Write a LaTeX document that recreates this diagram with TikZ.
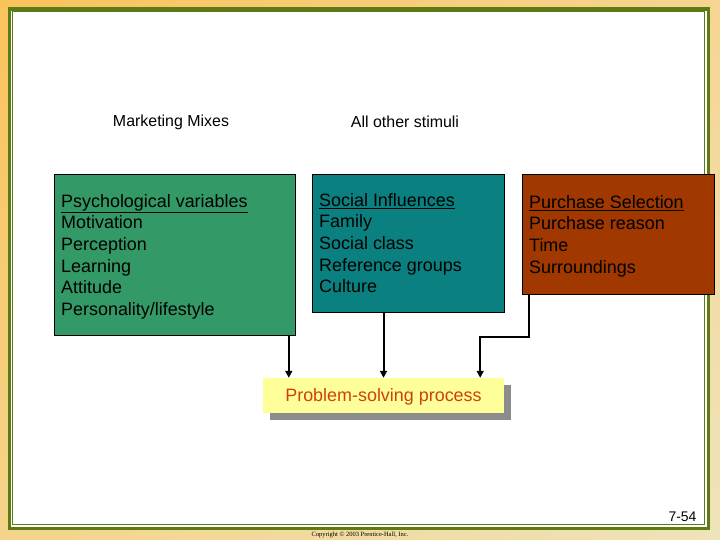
\documentclass[tikz,border=0pt]{standalone}
\usepackage{fontspec}
\setmainfont{Liberation Sans}
\newfontfamily\copyfont{Liberation Serif}
\usetikzlibrary{positioning, arrows.meta, shadows, shadings}
\definecolor{frameOlive}{HTML}{5E7A14}
\definecolor{psychGreen}{HTML}{339966}
\definecolor{socialTeal}{HTML}{0A8080}
\definecolor{purchRed}{HTML}{A03800}
\definecolor{probYellow}{HTML}{FFFF99}
\definecolor{probText}{HTML}{D0400A}
\definecolor{shadowGrey}{HTML}{8C8C8C}
\definecolor{rimOrange}{HTML}{F9C35C}
\definecolor{rimPeach}{HTML}{F6D592}
\definecolor{rimSand}{HTML}{F4D48A}
\definecolor{rimBeige}{HTML}{EFE3BA}

\tikzset{
  varbox/.style={draw=black, line width=0.8bp, inner sep=0pt, anchor=north west},
  vartext/.style={anchor=north west, inner sep=0pt, align=left,
    font=\fontsize{18}{21.7}\selectfont},
  feed/.style={line width=2bp, -{Triangle[width=7bp,length=7bp]}},
}

\begin{document}
\begin{tikzpicture}[x=1bp, y=-1bp]
    \useasboundingbox (0,0) rectangle (720,540);
    % cadre de la diapositive
    \shade[upper left=rimOrange, upper right=rimPeach, lower left=rimSand, lower right=rimBeige]
      (0,0) rectangle (720,540);
    \fill[white] (8,8) rectangle (710,530);
    \draw[frameOlive, line width=3.5bp] (9.5,9) rectangle (708.5,528.5);
    \draw[frameOlive, line width=1bp] (12.5,12) rectangle (704.5,524.5);

    \node[font=\fontsize{16}{19}\selectfont] (mixLabel) at (171,122) {Marketing Mixes};
    \node[font=\fontsize{16}{19}\selectfont] (stimLabel) at (405,122) {All other stimuli};

    \node[varbox, fill=psychGreen, minimum width=241bp, minimum height=161bp] (psych) at (54,174) {};
    \node[vartext] (psychText) at ([shift={(7,20)}]psych.north west)
      {\underline{Psychological variables}\\Motivation\\Perception\\Learning\\Attitude\\Personality/lifestyle};

    \node[varbox, fill=socialTeal, minimum width=192bp, minimum height=138bp] (social) at (312,174) {};
    \node[vartext] (socialText) at ([shift={(7,19)}]social.north west)
      {\underline{Social Influences}\\Family\\Social class\\Reference groups\\Culture};

    \node[varbox, fill=purchRed, minimum width=192bp, minimum height=120bp] (purch) at (522,174) {};
    \node[vartext] (purchText) at ([shift={(7,21)}]purch.north west)
      {\underline{Purchase Selection}\\Purchase reason\\Time\\Surroundings};

    \node[fill=probYellow, minimum width=241bp, minimum height=35bp, inner sep=0pt, text=probText,
      font=\fontsize{18}{21.7}\selectfont, text height=12bp, text depth=1bp,
      drop shadow={shadow xshift=7bp, shadow yshift=-7bp, fill=shadowGrey, opacity=1}]
      (prob) at (383.5,395.5) {Problem-solving process};

    \coordinate (psychOut) at ([xshift=-7bp]psych.south east);
    \coordinate (purchOut) at ([xshift=7bp]purch.south west);
    \coordinate (probIn) at ([xshift=-24bp]prob.north east);
    \draw[feed] (psychOut) -- (psychOut |- prob.north);
    \draw[feed] (social.south -| prob.north) -- (prob.north);
    \draw[feed] (purchOut) -- ++(0,42) -| (probIn);

    \node[font=\fontsize{14}{16}\selectfont, anchor=east] (pageNo) at (700,517) {7-54};
    \node[font=\copyfont\fontsize{6.5}{8}\selectfont] (copyNote) at (360,535)
      {Copyright \textcopyright{} 2003 Prentice-Hall, Inc.};
\end{tikzpicture}
\end{document}
